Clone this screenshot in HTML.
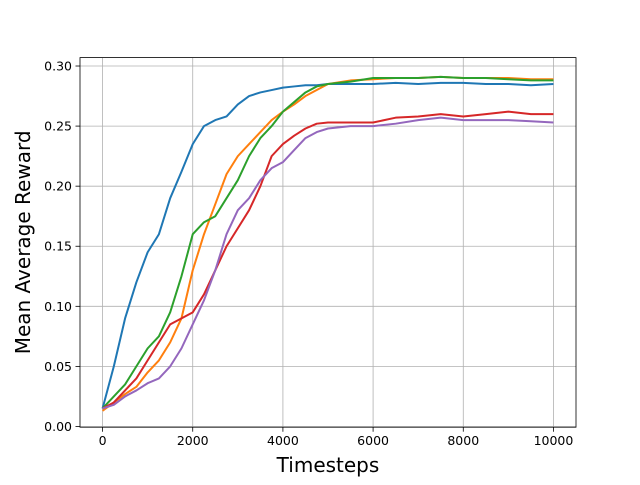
<!DOCTYPE html>
<html><head><meta charset="utf-8"><style>
body{margin:0;background:#fff}
svg text{font-family:"DejaVu Sans","Liberation Sans",sans-serif;fill:#000}
</style></head><body>
<svg id="chart" width="640" height="480" xmlns="http://www.w3.org/2000/svg">
<rect width="640" height="480" fill="#fff"/>
<g id="grid"></g><g id="series"></g><g id="axes"></g>
</svg>
<script>
const xs=[0,250,500,750,1000,1250,1500,1750,2000,2250,2500,2750,3000,3250,3500,3750,4000,4250,4500,4750,5000,5500,6000,6500,7000,7500,8000,8500,9000,9500,10000];
const blue=[0.015,0.05,0.09,0.12,0.145,0.16,0.19,0.212,0.235,0.25,0.255,0.258,0.268,0.275,0.278,0.28,0.282,0.283,0.284,0.284,0.285,0.285,0.285,0.286,0.285,0.286,0.286,0.285,0.285,0.284,0.285];
const orange=[0.013,0.02,0.027,0.033,0.045,0.055,0.07,0.09,0.13,0.16,0.185,0.21,0.225,0.235,0.245,0.255,0.262,0.268,0.275,0.28,0.285,0.288,0.289,0.29,0.29,0.291,0.29,0.29,0.29,0.289,0.289];
const green=[0.015,0.025,0.035,0.05,0.065,0.075,0.095,0.125,0.16,0.17,0.175,0.19,0.205,0.225,0.24,0.25,0.262,0.27,0.278,0.283,0.285,0.287,0.29,0.29,0.29,0.291,0.29,0.29,0.289,0.288,0.288];
const red=[0.015,0.02,0.03,0.04,0.055,0.07,0.085,0.09,0.095,0.11,0.13,0.15,0.165,0.18,0.2,0.225,0.235,0.242,0.248,0.252,0.253,0.253,0.253,0.257,0.258,0.26,0.258,0.26,0.262,0.26,0.26];
const purple=[0.015,0.018,0.025,0.03,0.036,0.04,0.05,0.065,0.085,0.105,0.13,0.16,0.18,0.19,0.205,0.215,0.22,0.23,0.24,0.245,0.248,0.25,0.25,0.252,0.255,0.257,0.255,0.255,0.255,0.254,0.253];
const xTicks=[0,2000,4000,6000,8000,10000];
const yTicks=[0,0.05,0.10,0.15,0.20,0.25,0.30];
const yTickLabels=["0.00","0.05","0.10","0.15","0.20","0.25","0.30"];
const L=80,R=576,T=57.6,B=427.2,xmin=-500,xmax=10500,ymin=-0.0006,ymax=0.3070;
const X=v=>L+(v-xmin)/(xmax-xmin)*(R-L);
const Y=v=>B-(v-ymin)/(ymax-ymin)*(B-T);
const NS="http://www.w3.org/2000/svg";
function mk(tag,attrs,parent){const e=document.createElementNS(NS,tag);for(const k in attrs)e.setAttribute(k,attrs[k]);parent.appendChild(e);return e;}
const grid=document.getElementById('grid'),ser=document.getElementById('series'),ax=document.getElementById('axes');
xTicks.forEach((t,i)=>{
 const g=mk('line',{x1:X(t),x2:X(t),y1:T,y2:B,stroke:'#b0b0b0','stroke-width':0.8},grid);
 
 
 mk('line',{x1:X(t),x2:X(t),y1:B,y2:B+4.5,stroke:'#000','stroke-width':0.8},ax);
 const tx=mk('text',{x:X(t),y:B+18,'text-anchor':'middle','font-size':12.5},ax);tx.textContent=t;
 
 
});
yTicks.forEach((t,i)=>{
 const g=mk('line',{x1:L,x2:R,y1:Y(t),y2:Y(t),stroke:'#b0b0b0','stroke-width':0.8},grid);
 
 
 mk('line',{x1:L-4.5,x2:L,y1:Y(t),y2:Y(t),stroke:'#000','stroke-width':0.8},ax);
 const tx=mk('text',{x:L-8,y:Y(t)+4.5,'text-anchor':'end','font-size':12.5},ax);tx.textContent=yTickLabels[i];
 
 
});
const fr=mk('rect',{x:L,y:T,width:R-L,height:B-T,fill:'none',stroke:'#000','stroke-width':0.8},ax);


const xl=mk('text',{x:(L+R)/2,y:472,'text-anchor':'middle','font-size':20},ax);xl.textContent='Timesteps';


const yl=mk('text',{x:0,y:0,'text-anchor':'middle','font-size':20,transform:`translate(30,${(T+B)/2}) rotate(-90)`},ax);yl.textContent='Mean Average Reward';


[[blue,'#1f77b4','series-blue'],[orange,'#ff7f0e','series-orange'],[green,'#2ca02c','series-green'],[red,'#d62728','series-red'],[purple,'#9467bd','series-purple']].forEach(([d,c,n])=>{
 const p=mk('polyline',{points:d.map((v,i)=>X(xs[i])+','+Y(v)).join(' '),fill:'none',stroke:c,'stroke-width':2,'stroke-linejoin':'round'},ser);
 
 
});
</script>
</body></html>
